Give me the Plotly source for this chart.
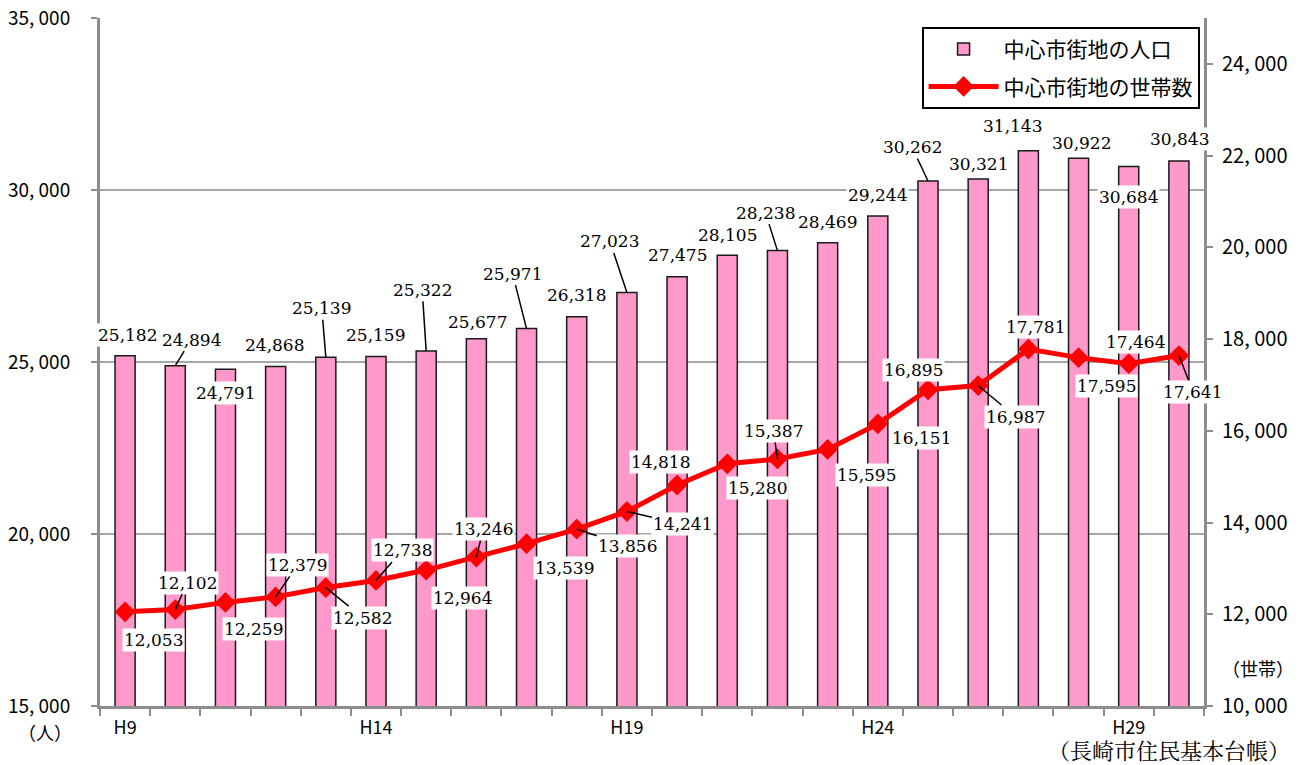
import plotly.graph_objects as go

# ---------------- data ----------------
years = ["H9", "H10", "H11", "H12", "H13", "H14", "H15", "H16", "H17", "H18", "H19",
         "H20", "H21", "H22", "H23", "H24", "H25", "H26", "H27", "H28", "H29", "H30"]
tick_years = ["H9", "H14", "H19", "H24", "H29"]

population = [25182, 24894, 24791, 24868, 25139, 25159, 25322, 25677, 25971, 26318, 27023,
              27475, 28105, 28238, 28469, 29244, 30262, 30321, 31143, 30922, 30684, 30843]
households = [12053, 12102, 12259, 12379, 12582, 12738, 12964, 13246, 13539, 13856, 14241,
              14818, 15280, 15387, 15595, 16151, 16895, 16987, 17781, 17595, 17464, 17641]

left_tickvals = [15000, 20000, 25000, 30000, 35000]
left_ticktext = ["15, 000", "20, 000", "25, 000", "30, 000", "35, 000"]
right_tickvals = [10000, 12000, 14000, 16000, 18000, 20000, 22000, 24000]
right_ticktext = ["10, 000", "12, 000", "14, 000", "16, 000", "18, 000", "20, 000", "22, 000", "24, 000"]

name_pop = "中心市街地の人口"
name_hh = "中心市街地の世帯数"

# label placement (pixel offsets from the mark, leader-line flag) -- styling only
pop_label_style = [(2, -21, 0), (16, -26, 1), (0, 24, 0), (-1, -22, 0), (-4, -49, 1), (-1, -22, 0),
                   (-4, -61, 1), (1, -17, 0), (-14, -55, 1), (0, -22, 0), (-17, -51, 1), (0, -22, 0),
                   (0, -20, 0), (-12, -38, 1), (0, -21, 0), (0, -21, 0), (-16, -34, 1), (0, -15, 0),
                   (-16, -25, 0), (3, -15, 0), (0, 31, 0), (1, -22, 0)]
hh_label_style = [(28, 28, 0), (12, -27, 1), (28, 27, 0), (22, -32, 1), (37, 30, 1), (26, -30, 1),
                  (36, 28, 0), (7, -28, 1), (38, 24, 0), (51, 17, 1), (56, 13, 1), (-17, -23, 0),
                  (30, 24, 0), (-4, -28, 1), (39, 26, 0), (44, 14, 0), (-15, -20, 0), (37, 31, 1),
                  (7, -22, 0), (28, 28, 0), (7, -22, 0), (14, 36, 1)]

SANS = "Noto Sans CJK JP, Noto Sans, sans-serif"
SERIF = "DejaVu Serif"
AXIS_GRAY = "#8C8C8C"

fig = go.Figure()
fig.add_trace(go.Bar(
    x=years, y=population, name=name_pop, yaxis="y", legendgroup="a",
    marker=dict(color="#FF99CC", line=dict(color="#1a1a1a", width=1.5)),
))
fig.add_trace(go.Scatter(
    x=years, y=households, name=name_hh, yaxis="y2", mode="lines+markers", legendgroup="b",
    line=dict(color="#FF0000", width=5),
    marker=dict(symbol="diamond", size=16, color="#FF0000"),
))

annotations = []
for i, (yr, v) in enumerate(zip(years, population)):
    dx, dy, lead = pop_label_style[i]
    annotations.append(dict(
        x=yr, y=v, xref="x", yref="y", text=f"{v:,}", showarrow=True,
        ax=dx, ay=dy, arrowhead=0, arrowwidth=1.5,
        arrowcolor="black" if lead else "rgba(0,0,0,0)",
        bgcolor="white", borderpad=1, font=dict(family=SERIF, size=17, color="black"),
    ))
for i, (yr, v) in enumerate(zip(years, households)):
    dx, dy, lead = hh_label_style[i]
    annotations.append(dict(
        x=yr, y=v, xref="x", yref="y2", text=f"{v:,}", showarrow=True,
        ax=dx, ay=dy, arrowhead=0, arrowwidth=1.5,
        arrowcolor="black" if lead else "rgba(0,0,0,0)",
        bgcolor="white", borderpad=1, font=dict(family=SERIF, size=17, color="black"),
    ))

annotations += [
    dict(text="（人）", xref="paper", yref="paper", x=-0.0498, y=-0.0378, showarrow=False,
         xanchor="center", yanchor="middle", font=dict(family=SANS, size=18, color="black")),
    dict(text="（世帯）", xref="paper", yref="paper", x=1.0489, y=0.0552, showarrow=False,
         xanchor="center", yanchor="middle", font=dict(family=SANS, size=18, color="black")),
    dict(text="（長崎市住民基本台帳）", xref="paper", yref="paper", x=1.0797, y=-0.0625,
         showarrow=False, xanchor="right", yanchor="middle",
         font=dict(family="Noto Serif CJK JP, " + SANS, size=22, color="black")),
]

# page body has an 8px default margin; the figure is sized so the plot area lands at
# x 100..1204, y 18..706 in the 1303x765 window
fig.update_layout(
    width=1295, height=757,
    margin=dict(l=92, r=99, t=10, b=59, autoexpand=False),
    paper_bgcolor="white", plot_bgcolor="white",
    bargap=0.6,
    showlegend=True,
    legend=dict(x=0.996, xanchor="right", y=0.987, yanchor="top",
                bgcolor="white", bordercolor="black", borderwidth=2,
                font=dict(family=SANS, size=21, color="black"),
                itemwidth=70, tracegroupgap=7, traceorder="grouped"),
    xaxis=dict(
        type="category", categoryorder="array", categoryarray=years,
        range=[-0.5, len(years) - 0.5], automargin=False,
        tickvals=years, ticktext=[y if y in tick_years else "" for y in years],
        tickson="boundaries", ticks="outside", ticklen=7, tickwidth=2, tickcolor=AXIS_GRAY,
        showline=True, linecolor=AXIS_GRAY, linewidth=3, showgrid=False,
        tickfont=dict(family=SANS, size=18, color="black"), ticklabelstandoff=3,
    ),
    yaxis=dict(
        range=[15000, 35000], tickvals=left_tickvals, ticktext=left_ticktext, automargin=False,
        ticks="outside", ticklen=6, tickwidth=2, tickcolor=AXIS_GRAY,
        showline=True, linecolor=AXIS_GRAY, linewidth=3,
        showgrid=True, gridcolor="#A6A6A6", gridwidth=2, zeroline=False,
        tickfont=dict(family=SANS, size=19, color="black"), ticklabelstandoff=17,
        ticklabeloverflow="allow",
    ),
    yaxis2=dict(
        range=[10000, 25000], tickvals=right_tickvals, ticktext=right_ticktext, automargin=False,
        overlaying="y", side="right",
        ticks="outside", ticklen=6, tickwidth=2, tickcolor=AXIS_GRAY,
        showline=True, linecolor=AXIS_GRAY, linewidth=3,
        showgrid=False, zeroline=False,
        tickfont=dict(family=SANS, size=20, color="black"), ticklabelstandoff=5,
        ticklabeloverflow="allow",
    ),
    annotations=annotations,
)

fig.write_html("out.html")
